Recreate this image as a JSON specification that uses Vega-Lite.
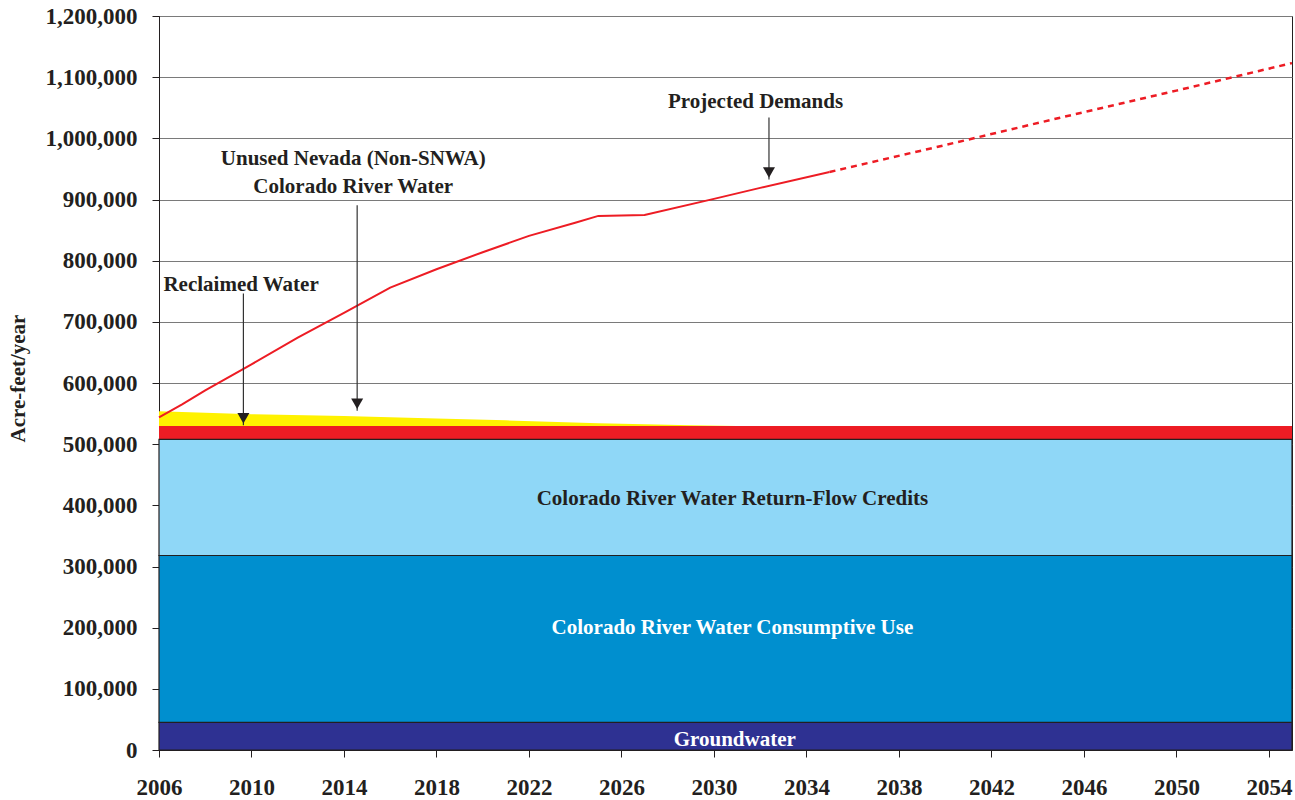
{
  "$schema": "https://vega.github.io/schema/vega-lite/v6.json",
  "width": 1133,
  "height": 734,
  "autosize": {"type": "none"},
  "padding": {"left": 159, "top": 16, "right": 3, "bottom": 50},
  "background": "white",
  "config": {
    "view": {"stroke": "#231f20", "strokeWidth": 1},
    "font": "Liberation Serif",
    "axis": {
      "labelFont": "Liberation Serif",
      "labelFontWeight": "bold",
      "labelFontSize": 23,
      "labelColor": "#231f20",
      "tickColor": "#231f20",
      "tickSize": 7,
      "domainColor": "#231f20",
      "labelFlush": false,
      "labelOverlap": false
    }
  },
  "datasets": {
    "bands": [
      {"band": "Unused Nevada (Non-SNWA) Colorado River Water", "start": 2006, "end": 2055, "lo": 507800, "hi": 529500},
      {"band": "Groundwater", "start": 2006, "end": 2055, "lo": 0, "hi": 45300},
      {"band": "Colorado River Water Consumptive Use", "start": 2006, "end": 2055, "lo": 45300, "hi": 318000},
      {"band": "Colorado River Water Return-Flow Credits", "start": 2006, "end": 2055, "lo": 318000, "hi": 507800}
    ],
    "reclaimed": [
      {"year": 2006, "top": 554000},
      {"year": 2010, "top": 549000},
      {"year": 2014, "top": 546000},
      {"year": 2018, "top": 542000},
      {"year": 2021, "top": 539000},
      {"year": 2025, "top": 534000},
      {"year": 2029, "top": 531000},
      {"year": 2031, "top": 529500}
    ],
    "demand": [
      {"year": 2006, "af": 544000},
      {"year": 2007, "af": 565000},
      {"year": 2008, "af": 588000},
      {"year": 2010, "af": 630500},
      {"year": 2012, "af": 674000},
      {"year": 2014, "af": 714700},
      {"year": 2016, "af": 756000},
      {"year": 2018, "af": 786000},
      {"year": 2020, "af": 813800},
      {"year": 2022, "af": 840500},
      {"year": 2024, "af": 862000},
      {"year": 2025, "af": 873200},
      {"year": 2027, "af": 874800},
      {"year": 2030, "af": 901000},
      {"year": 2032, "af": 919000},
      {"year": 2035, "af": 945000}
    ],
    "demandProj": [
      {"year": 2035, "af": 945000},
      {"year": 2040, "af": 989000},
      {"year": 2045, "af": 1034000},
      {"year": 2050, "af": 1078000},
      {"year": 2055, "af": 1123000}
    ],
    "arrows": [
      {"name": "Projected Demands", "year": 2032.38, "top": 1034000, "tip": 932700},
      {"name": "Unused Nevada", "year": 2014.57, "top": 890700, "tip": 554600},
      {"name": "Reclaimed Water", "year": 2009.65, "top": 746300, "tip": 531000}
    ],
    "darkNotes": [
      {"label": "Projected Demands", "year": 2031.8, "value": 1059000},
      {"label": "Unused Nevada (Non-SNWA)", "year": 2014.4, "value": 965800},
      {"label": "Colorado River Water", "year": 2014.4, "value": 920500},
      {"label": "Reclaimed Water", "year": 2009.55, "value": 761000},
      {"label": "Colorado River Water Return-Flow Credits", "year": 2030.8, "value": 409700}
    ],
    "whiteNotes": [
      {"label": "Colorado River Water Consumptive Use", "year": 2030.8, "value": 199000},
      {"label": "Groundwater", "year": 2030.9, "value": 16000}
    ]
  },
  "layer": [
    {
      "data": {"name": "bands"},
      "transform": [{"filter": "datum.band === 'Unused Nevada (Non-SNWA) Colorado River Water'"}],
      "mark": {"type": "rect", "color": "#ed1c24"},
      "encoding": {
        "x": {
          "field": "start", "type": "quantitative",
          "scale": {"domain": [2006, 2055], "nice": false, "zero": false},
          "axis": {"values": [2006, 2010, 2014, 2018, 2022, 2026, 2030, 2034, 2038, 2042, 2046, 2050, 2054], "format": "d", "grid": false, "title": null, "labelPadding": 19}
        },
        "x2": {"field": "end"},
        "y": {
          "field": "lo", "type": "quantitative",
          "scale": {"domain": [0, 1200000], "nice": false},
          "axis": {
            "values": [0, 100000, 200000, 300000, 400000, 500000, 600000, 700000, 800000, 900000, 1000000, 1100000, 1200000],
            "format": ",d", "grid": true, "gridColor": "#7a7a7a", "gridWidth": 1,
            "labelPadding": 15,
            "title": "Acre-feet/year", "titleFont": "Liberation Serif", "titleFontWeight": "bold", "titleFontSize": 21,
            "titleColor": "#231f20", "titleX": -141, "titleY": 362, "titleAngle": -90, "titleAlign": "center", "titleBaseline": "middle"
          }
        },
        "y2": {"field": "hi"}
      }
    },
    {
      "data": {"name": "reclaimed"},
      "mark": {"type": "area", "color": "#fff200", "interpolate": "linear"},
      "encoding": {
        "x": {"field": "year", "type": "quantitative"},
        "y": {"field": "top", "type": "quantitative"},
        "y2": {"datum": 529500}
      }
    },
    {
      "data": {"name": "bands"},
      "transform": [{"filter": "datum.band !== 'Unused Nevada (Non-SNWA) Colorado River Water'"}],
      "mark": {"type": "rect", "stroke": "#231f20", "strokeWidth": 1.2},
      "encoding": {
        "x": {"field": "start", "type": "quantitative"},
        "x2": {"field": "end"},
        "y": {"field": "lo", "type": "quantitative"},
        "y2": {"field": "hi"},
        "color": {
          "field": "band", "type": "nominal", "legend": null,
          "scale": {
            "domain": ["Groundwater", "Colorado River Water Consumptive Use", "Colorado River Water Return-Flow Credits"],
            "range": ["#2e3192", "#008fcf", "#8fd7f7"]
          }
        }
      }
    },
    {
      "data": {"name": "demand"},
      "mark": {"type": "line", "color": "#ed1c24", "strokeWidth": 2},
      "encoding": {
        "x": {"field": "year", "type": "quantitative"},
        "y": {"field": "af", "type": "quantitative"}
      }
    },
    {
      "data": {"name": "demandProj"},
      "mark": {"type": "line", "color": "#ed1c24", "strokeWidth": 2.5, "strokeDash": [6, 5]},
      "encoding": {
        "x": {"field": "year", "type": "quantitative"},
        "y": {"field": "af", "type": "quantitative"}
      }
    },
    {
      "data": {"name": "arrows"},
      "mark": {"type": "rule", "color": "#333333", "strokeWidth": 1.2},
      "encoding": {
        "x": {"field": "year", "type": "quantitative"},
        "y": {"field": "top", "type": "quantitative"},
        "y2": {"field": "tip"}
      }
    },
    {
      "data": {"name": "arrows"},
      "mark": {"type": "point", "shape": "triangle-down", "filled": true, "color": "#231f20", "opacity": 1, "size": 144, "yOffset": -7},
      "encoding": {
        "x": {"field": "year", "type": "quantitative"},
        "y": {"field": "tip", "type": "quantitative"}
      }
    },
    {
      "data": {"name": "darkNotes"},
      "mark": {"type": "text", "font": "Liberation Serif", "fontWeight": "bold", "fontSize": 21, "color": "#231f20", "align": "center", "baseline": "middle"},
      "encoding": {
        "x": {"field": "year", "type": "quantitative"},
        "y": {"field": "value", "type": "quantitative"},
        "text": {"field": "label"}
      }
    },
    {
      "data": {"name": "whiteNotes"},
      "mark": {"type": "text", "font": "Liberation Serif", "fontWeight": "bold", "fontSize": 21, "color": "#ffffff", "align": "center", "baseline": "middle"},
      "encoding": {
        "x": {"field": "year", "type": "quantitative"},
        "y": {"field": "value", "type": "quantitative"},
        "text": {"field": "label"}
      }
    }
  ]
}
